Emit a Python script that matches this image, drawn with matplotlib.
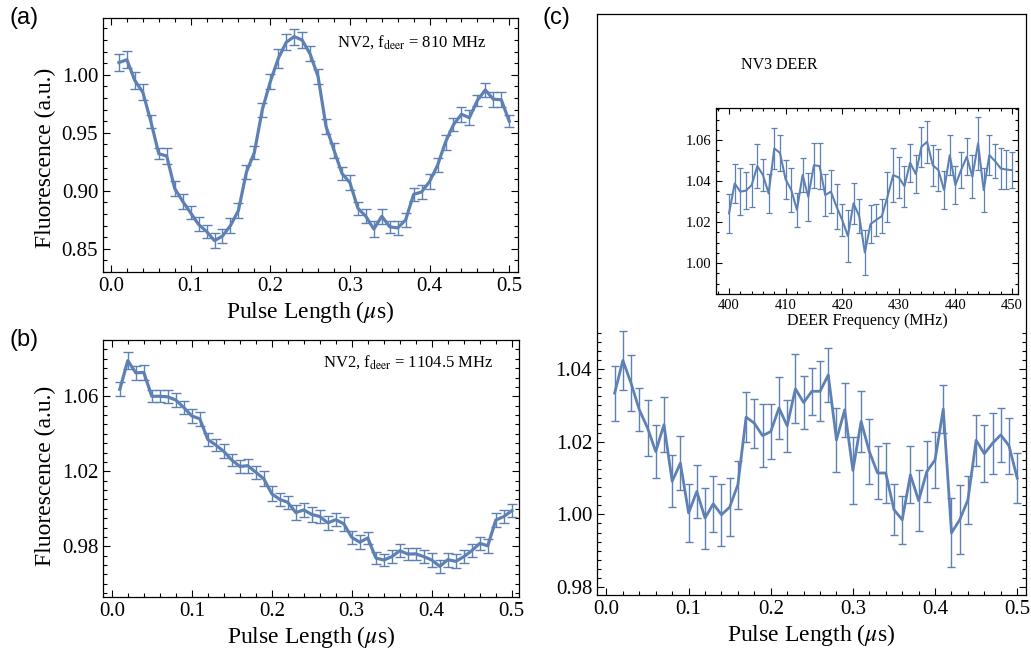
import numpy as np
import matplotlib
matplotlib.use("Agg")
import matplotlib.pyplot as plt
from matplotlib.ticker import FixedLocator, MultipleLocator, FormatStrFormatter

plt.rcParams['font.family'] = ['Liberation Serif', 'DejaVu Serif']
plt.rcParams['mathtext.fontset'] = 'stix'

# ---------------- data ----------------
x_pulse = np.round(np.arange(1, 51) * 0.01, 2)
pulse_ticks = [0.0, 0.1, 0.2, 0.3, 0.4, 0.5]

a_vals = [1.0106, 1.013, 0.995, 0.985, 0.960, 0.932, 0.930, 0.902, 0.891, 0.881,
          0.871, 0.865, 0.857, 0.861, 0.870, 0.883, 0.916, 0.933, 0.970, 0.994,
          1.014, 1.028, 1.033, 1.030, 1.018, 0.9985, 0.9555, 0.935, 0.915, 0.907,
          0.885, 0.878, 0.867, 0.878, 0.869, 0.868, 0.875, 0.897, 0.899, 0.908,
          0.922, 0.942, 0.957, 0.966, 0.963, 0.978, 0.987, 0.979, 0.9785, 0.960]
a_err = [0.0072, 0.0072, 0.0072, 0.0067, 0.0055, 0.0050, 0.0067, 0.0063, 0.0063, 0.0057,
         0.0060, 0.0056, 0.0066, 0.0057, 0.0065, 0.0067, 0.0059, 0.0060, 0.0060, 0.0065,
         0.0079, 0.0069, 0.0069, 0.0065, 0.0065, 0.0067, 0.0067, 0.0065, 0.0055, 0.0066,
         0.0057, 0.0060, 0.0067, 0.0065, 0.0053, 0.0057, 0.0060, 0.0057, 0.0062, 0.0062,
         0.0062, 0.0065, 0.0057, 0.0065, 0.0065, 0.0050, 0.0063, 0.0065, 0.0065, 0.0053]
a_yticks = [0.85, 0.90, 0.95, 1.00]

b_vals = [1.0637, 1.079, 1.0725, 1.0727, 1.060, 1.060, 1.0597, 1.058, 1.054, 1.0495,
          1.048, 1.037, 1.034, 1.0306, 1.026, 1.0226, 1.023, 1.0195, 1.016, 1.008,
          1.005, 1.0035, 0.998, 0.9994, 0.997, 0.9959, 0.9925, 0.9942, 0.992, 0.9848,
          0.9822, 0.9845, 0.9738, 0.9727, 0.9745, 0.9777, 0.9759, 0.976, 0.9745, 0.9727,
          0.9693, 0.9729, 0.972, 0.9745, 0.9777, 0.9816, 0.9803, 0.994, 0.9959, 0.999]
b_err = [0.0037, 0.0045, 0.0036, 0.0038, 0.0031, 0.0031, 0.0034, 0.0037, 0.0034, 0.0037,
         0.0036, 0.0036, 0.0033, 0.0037, 0.0033, 0.0034, 0.0037, 0.0034, 0.0040, 0.0040,
         0.0033, 0.0034, 0.0039, 0.0036, 0.0040, 0.0036, 0.0038, 0.0035, 0.0036, 0.0036,
         0.0038, 0.0034, 0.0032, 0.0034, 0.0034, 0.0036, 0.0031, 0.0031, 0.0034, 0.0036,
         0.0035, 0.0037, 0.0037, 0.0036, 0.0034, 0.0036, 0.0036, 0.0036, 0.0037, 0.0034]
b_yticks = [0.98, 1.02, 1.06]

c_vals = [1.0334, 1.0424, 1.0361, 1.0288, 1.0238, 1.0173, 1.0247, 1.0091, 1.0141, 1.0004,
          1.0063, 0.9990, 1.0029, 0.9999, 1.0020, 1.0082, 1.0268, 1.0251, 1.0217, 1.0228,
          1.0293, 1.0244, 1.0346, 1.0308, 1.0339, 1.0339, 1.0384, 1.0205, 1.0288, 1.0121,
          1.0256, 1.0173, 1.0114, 1.0114, 1.0013, 0.9985, 1.0109, 1.0038, 1.0118, 1.0150,
          1.0290, 0.9949, 0.9985, 1.0040, 1.0204, 1.0167, 1.0196, 1.0219, 1.0189, 1.0100]
c_err = [0.0076, 0.0082, 0.0077, 0.0059, 0.0078, 0.0072, 0.0075, 0.0072, 0.0075, 0.0080,
         0.0072, 0.0084, 0.0077, 0.0085, 0.0080, 0.0066, 0.0069, 0.0067, 0.0087, 0.0076,
         0.0085, 0.0071, 0.0095, 0.0072, 0.0065, 0.0083, 0.0075, 0.0087, 0.0075, 0.0092,
         0.0083, 0.0089, 0.0073, 0.0083, 0.0071, 0.0067, 0.0079, 0.0083, 0.0083, 0.0077,
         0.0067, 0.0095, 0.0095, 0.0067, 0.0070, 0.0078, 0.0084, 0.0074, 0.0077, 0.0070]
c_yticks = [0.98, 1.00, 1.02, 1.04]

deer_freq = np.arange(400, 451)
deer_vals = [1.0243, 1.0389, 1.0349, 1.0354, 1.0381, 1.0474, 1.0430, 1.0340, 1.0560, 1.0538,
             1.0409, 1.0357, 1.0260, 1.0430, 1.0324, 1.0478, 1.0474, 1.0333, 1.0349, 1.0276,
             1.0211, 1.0133, 1.0292, 1.0230, 1.0052, 1.0191, 1.0211, 1.0230, 1.0324, 1.0430,
             1.0418, 1.0376, 1.0490, 1.0435, 1.0568, 1.0592, 1.0478, 1.0454, 1.0357, 1.0527,
             1.0381, 1.0454, 1.0519, 1.0422, 1.0584, 1.0357, 1.0527, 1.0498, 1.0462, 1.0457,
             1.0454]
deer_err = [0.0096, 0.0093, 0.0114, 0.0089, 0.0105, 0.0107, 0.0077, 0.0093, 0.0099, 0.0087,
            0.0094, 0.0105, 0.0081, 0.0084, 0.0117, 0.0109, 0.0112, 0.0104, 0.0105, 0.0111,
            0.0077, 0.0128, 0.0101, 0.0084, 0.0110, 0.0093, 0.0077, 0.0083, 0.0123, 0.0133,
            0.0101, 0.0100, 0.0093, 0.0092, 0.0097, 0.0101, 0.0099, 0.0101, 0.0093, 0.0097,
            0.0091, 0.0089, 0.0091, 0.0105, 0.0127, 0.0107, 0.0096, 0.0083, 0.0099, 0.0097,
            0.0087]
deer_xticks = [400, 410, 420, 430, 440, 450]
deer_yticks = [1.00, 1.02, 1.04, 1.06]

# ---------------- style ----------------
COL = '#5e81b5'
W, H = 1031, 660
TICK_FS = 15
LAB_FS = 17

fig = plt.figure(figsize=(W / 100, H / 100), dpi=100)


def box(l, t, r, b):
    return [l / W, 1 - b / H, (r - l) / W, (b - t) / H]


def style(ax, fs=TICK_FS, top=True, right=True, maj=5, mnr=3):
    for s in ax.spines.values():
        s.set_linewidth(0.9)
    ax.tick_params(which='both', direction='in', top=top, right=right,
                   labelsize=fs, width=0.8)
    ax.tick_params(which='major', length=maj)
    ax.tick_params(which='minor', length=mnr)


def draw(ax, x, y, e, lw=2.0, cap=3.0, elw=1.0):
    ax.errorbar(x, y, yerr=e, fmt='none', ecolor=COL, elinewidth=elw,
                capsize=cap, capthick=elw, zorder=2)
    ax.plot(x, y, color=COL, lw=lw, zorder=3, solid_joinstyle='round')


def pulse_axis(ax):
    ax.xaxis.set_major_locator(FixedLocator(pulse_ticks))
    ax.xaxis.set_minor_locator(FixedLocator(np.round(np.arange(0, 0.5001, 0.02), 2)))
    ax.xaxis.set_major_formatter(FormatStrFormatter('%.1f'))
    ax.yaxis.set_major_formatter(FormatStrFormatter('%.2f'))


# ---- (a) ----
axA = fig.add_axes(box(103, 18, 518, 272))
draw(axA, x_pulse, a_vals, a_err, lw=2.3, cap=3.3)
axA.set_xlim(-0.01, 0.511)
axA.set_ylim(0.830, 1.049)
pulse_axis(axA)
axA.yaxis.set_major_locator(FixedLocator(a_yticks))
axA.yaxis.set_minor_locator(MultipleLocator(0.01))
style(axA)
axA.set_xlabel(r'Pulse Length ($\mu$s)', fontsize=LAB_FS, labelpad=2)
axA.set_ylabel('Fluorescence (a.u.)', fontsize=LAB_FS)
axA.yaxis.set_label_coords(-0.112, 0.45)
axA.text(0.565, 0.905, r'NV2, f$_{\rm deer}$ = 810 MHz', transform=axA.transAxes,
         fontsize=12, ha='left', va='center')

# ---- (b) ----
axB = fig.add_axes(box(103, 340, 519, 597))
draw(axB, x_pulse, b_vals, b_err, lw=2.3, cap=3.3)
axB.set_xlim(-0.011, 0.509)
axB.set_ylim(0.953, 1.090)
pulse_axis(axB)
axB.yaxis.set_major_locator(FixedLocator(b_yticks))
axB.yaxis.set_minor_locator(MultipleLocator(0.005))
style(axB)
axB.set_xlabel(r'Pulse Length ($\mu$s)', fontsize=LAB_FS, labelpad=2)
axB.set_ylabel('Fluorescence (a.u.)', fontsize=LAB_FS)
axB.yaxis.set_label_coords(-0.112, 0.47)
axB.text(0.53, 0.915, r'NV2, f$_{\rm deer}$ = 1104.5 MHz', transform=axB.transAxes,
         fontsize=12, ha='left', va='center')

# ---- (c) ----
axC = fig.add_axes(box(597, 14, 1026, 595))
draw(axC, x_pulse, c_vals, c_err, lw=2.0, cap=3.2)
axC.set_xlim(-0.0115, 0.5107)
axC.set_ylim(0.9778, 1.1378)
pulse_axis(axC)
axC.yaxis.set_major_locator(FixedLocator(c_yticks))
minor_c = [v for v in np.round(np.arange(0.98, 1.0501, 0.0025), 4)
           if v not in (0.98, 1.0, 1.02, 1.04)]
axC.yaxis.set_minor_locator(FixedLocator(minor_c))
style(axC, top=False)
axC.set_xlabel(r'Pulse Length ($\mu$s)', fontsize=LAB_FS, labelpad=2)
axC.text(0.335, 0.912, 'NV3 DEER', transform=axC.transAxes,
         fontsize=11.5, ha='left', va='center')

# ---- inset ----
axI = fig.add_axes(box(716, 108, 1018, 294))
axI.set_facecolor('white')
draw(axI, deer_freq, deer_vals, deer_err, lw=1.5, cap=2.2, elw=0.9)
axI.set_xlim(397.7, 451.06)
axI.set_ylim(0.985, 1.0757)
axI.xaxis.set_major_locator(FixedLocator(deer_xticks))
axI.xaxis.set_minor_locator(MultipleLocator(2))
axI.yaxis.set_major_locator(FixedLocator(deer_yticks))
axI.yaxis.set_minor_locator(MultipleLocator(0.005))
axI.yaxis.set_major_formatter(FormatStrFormatter('%.2f'))
style(axI, fs=10.5, maj=4, mnr=2.2)
axI.set_xlabel('DEER Frequency (MHz)', fontsize=11.5, labelpad=1)

# ---- panel letters ----
for lbl, px, py in [('(a)', 24, 18), ('(b)', 24, 340), ('(c)', 556, 18)]:
    fig.text(px / W, 1 - py / H, lbl, fontsize=17, family='Liberation Sans',
             ha='center', va='center')

fig.savefig('out.png', dpi=100)
